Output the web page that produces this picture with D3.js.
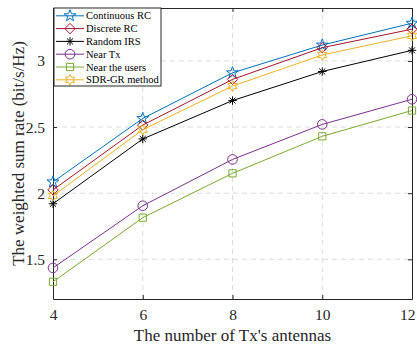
<!DOCTYPE html>
<html>
<head>
<meta charset="utf-8">
<script src="https://cdn.jsdelivr.net/npm/d3@7"></script>
<style>
  html, body { margin: 0; padding: 0; background: #fff; }
  svg { display: block; font-family: "Liberation Serif", "Times New Roman", serif; }
</style>
</head>
<body>
<svg id="chart" width="417" height="344"></svg>
<script>
// Number of transmit antennas
const antennas = [4, 6, 8, 10, 12];

// Weighted sum rate (bit/s/Hz) for each scheme
const continuousRC = [2.085, 2.565, 2.91, 3.12, 3.285];
const discreteRC   = [2.025, 2.515, 2.86, 3.10, 3.24];
const randomIRS    = [1.92, 2.41, 2.70, 2.92, 3.08];
const nearTx       = [1.435, 1.905, 2.255, 2.52, 2.71];
const nearUsers    = [1.33, 1.815, 2.15, 2.43, 2.625];
const sdrGR        = [1.98, 2.48, 2.81, 3.045, 3.19];

const seriesNames = ["Continuous RC", "Discrete RC", "Random IRS", "Near Tx", "Near the users", "SDR-GR method"];
const xTicks = [4, 6, 8, 10, 12];
const yTicks = [1.5, 2, 2.5, 3];

const series = [
  { name: seriesNames[0], values: continuousRC, color: "#0072BD", marker: "pentagram" },
  { name: seriesNames[1], values: discreteRC,   color: "#A2142F", marker: "diamond" },
  { name: seriesNames[2], values: randomIRS,    color: "#000000", marker: "asterisk" },
  { name: seriesNames[3], values: nearTx,       color: "#7E2F8E", marker: "circle" },
  { name: seriesNames[4], values: nearUsers,    color: "#77AC30", marker: "square" },
  { name: seriesNames[5], values: sdrGR,        color: "#EDB120", marker: "hexagram" }
];

const svg = d3.select("#chart");
const margin = { left: 53, right: 5, top: 8, bottom: 45 };
const W = 417, H = 344;
const x = d3.scaleLinear().domain([4, 12]).range([margin.left, W - margin.right]);
const y = d3.scaleLinear().domain([1.2, 3.4]).range([H - margin.bottom, margin.top]);
const serif = '"Liberation Serif", "Times New Roman", serif';

// Marker path builders (centered on 0,0)
function starPath(points, rOuter, rInner, rot) {
  const pts = [];
  for (let i = 0; i < points * 2; i++) {
    const r = i % 2 === 0 ? rOuter : rInner;
    const a = rot + i * Math.PI / points;
    pts.push([r * Math.sin(a), -r * Math.cos(a)]);
  }
  return "M" + pts.map(p => p[0].toFixed(2) + "," + p[1].toFixed(2)).join("L") + "Z";
}
const markerPath = {
  pentagram: () => starPath(5, 6.2, 2.5, 0),
  hexagram: () => starPath(6, 5.2, 3.0, 0),
  diamond: () => "M0,-5.2L5.2,0L0,5.2L-5.2,0Z",
  square: () => "M-3.6,-3.6H3.6V3.6H-3.6Z",
  circle: () => d3.arc()({ innerRadius: 0, outerRadius: 4.8, startAngle: 0, endAngle: 2 * Math.PI }),
  asterisk: () => {
    const r = 4.2, d = r * 0.7071;
    return `M${-r},0H${r}M0,${-r}V${r}M${-d},${-d}L${d},${d}M${-d},${d}L${d},${-d}`;
  }
};

// Grid lines
const grid = svg.append("g");
grid.selectAll("line.gx").data(xTicks.slice(1, -1)).enter().append("line")
  .attr("x1", d => x(d)).attr("x2", d => x(d))
  .attr("y1", y(1.2)).attr("y2", y(3.4))
  .attr("stroke", "#dcdcdc").attr("stroke-width", 1).attr("stroke-dasharray", "5,4");
grid.selectAll("line.gy").data(yTicks).enter().append("line")
  .attr("x1", x(4)).attr("x2", x(12))
  .attr("y1", d => y(d)).attr("y2", d => y(d))
  .attr("stroke", "#dcdcdc").attr("stroke-width", 1).attr("stroke-dasharray", "5,4");

// Axes (box with inward ticks)
const axisColor = "#262626";
const xAxisB = svg.append("g").attr("transform", `translate(0,${y(1.2)})`)
  .call(d3.axisBottom(x).tickValues(xTicks).tickSizeInner(-4).tickSizeOuter(0).tickPadding(10));
const xAxisT = svg.append("g").attr("transform", `translate(0,${y(3.4)})`)
  .call(d3.axisTop(x).tickValues(xTicks).tickSizeInner(-4).tickSizeOuter(0).tickFormat(""));
const yAxisL = svg.append("g").attr("transform", `translate(${x(4)},0)`)
  .call(d3.axisLeft(y).tickValues(yTicks).tickSizeInner(-4).tickSizeOuter(0).tickPadding(8).tickFormat(d3.format("")));
const yAxisR = svg.append("g").attr("transform", `translate(${x(12)},0)`)
  .call(d3.axisRight(y).tickValues(yTicks).tickSizeInner(-4).tickSizeOuter(0).tickFormat(""));
[xAxisB, xAxisT, yAxisL, yAxisR].forEach(g => {
  g.select(".domain").attr("stroke", axisColor).attr("stroke-width", 1);
  g.selectAll(".tick line").attr("stroke", axisColor).attr("stroke-width", 1);
  g.selectAll(".tick text").attr("fill", "#262626")
    .style("font-family", serif).style("font-size", "15.5px");
});
xAxisB.selectAll(".tick text").attr("dy", "0.71em");
// keep the last x tick label inside the canvas
xAxisB.selectAll(".tick text").filter(d => d === 12).attr("text-anchor", "end").attr("dx", "3");

// Series lines and markers
const line = d3.line().x((d, i) => x(antennas[i])).y(d => y(d));
series.forEach(s => {
  const g = svg.append("g");
  g.append("path").datum(s.values).attr("d", line)
    .attr("fill", "none").attr("stroke", s.color).attr("stroke-width", 1);
  g.selectAll("path.m").data(s.values).enter().append("path")
    .attr("transform", (d, i) => `translate(${x(antennas[i])},${y(d)})`)
    .attr("d", markerPath[s.marker]())
    .attr("fill", "none").attr("stroke", s.color).attr("stroke-width", 1);
});

// Legend
const lg = svg.append("g").attr("transform", `translate(${x(4) + 1},${y(3.4)})`);
lg.append("rect").attr("x", 0).attr("y", 0).attr("width", 107).attr("height", 78)
  .attr("fill", "#fff").attr("stroke", "#262626").attr("stroke-width", 1);
series.forEach((s, i) => {
  const cy = 7.8 + i * 12.8;
  lg.append("line").attr("x1", 2).attr("x2", 30).attr("y1", cy).attr("y2", cy)
    .attr("stroke", s.color).attr("stroke-width", 1);
  lg.append("path").attr("transform", `translate(16,${cy})`).attr("d", markerPath[s.marker]())
    .attr("fill", "none").attr("stroke", s.color).attr("stroke-width", 1);
  lg.append("text").attr("x", 32).attr("y", cy).attr("dy", "0.35em")
    .style("font-size", "10.5px").attr("fill", "#000").text(s.name);
});

// Axis titles
svg.append("text").attr("x", (x(4) + x(12)) / 2).attr("y", 341)
  .attr("text-anchor", "middle").style("font-size", "17px").attr("fill", "#262626")
  .text("The number of Tx's antennas");
svg.append("text").attr("transform", `translate(18,${(y(1.2) + y(3.4)) / 2}) rotate(-90)`)
  .attr("text-anchor", "middle").attr("dy", "0.35em").style("font-size", "17px").attr("fill", "#262626")
  .text("The weighted sum rate (bit/s/Hz)");
</script>
</body>
</html>
